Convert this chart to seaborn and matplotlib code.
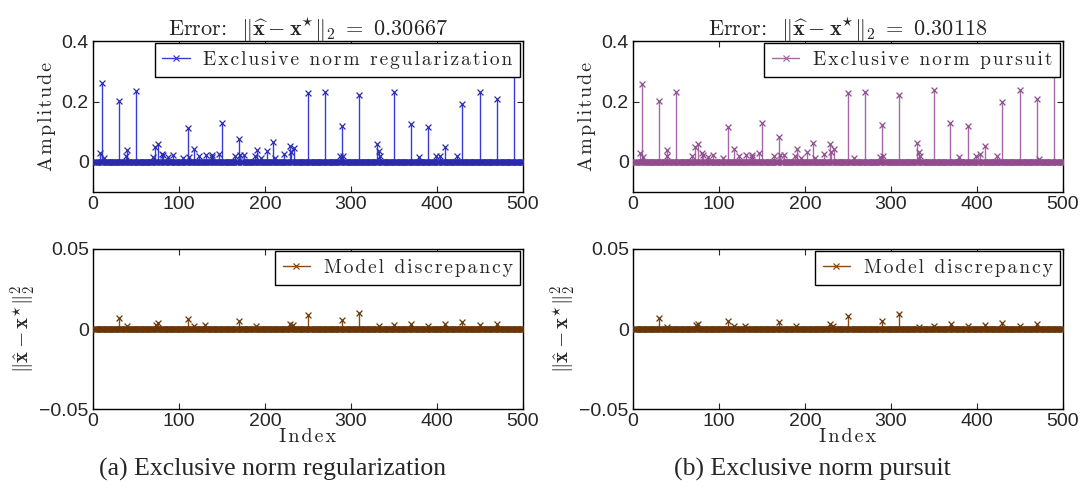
import numpy as np
import pandas as pd
import matplotlib
matplotlib.use('Agg')
import matplotlib.pyplot as plt
import seaborn as sns
from matplotlib.lines import Line2D
from matplotlib.legend_handler import HandlerLine2D

# ---- data (index is 1..500, everything else is 0) ----
n_points = 500

reg_idx = [8, 10, 13, 30, 39, 40, 50, 70, 72, 76, 80, 82, 87, 93, 105, 110, 112,
           118, 123, 132, 138, 139, 147, 150, 165, 170, 171, 176, 188, 191, 196,
           203, 210, 212, 222, 229, 230, 234, 250, 270, 287, 290, 291, 310, 330,
           333, 334, 350, 370, 379, 390, 399, 404, 410, 424, 430, 450, 470, 490]
reg_val = [0.028, 0.261, 0.013, 0.202, 0.019, 0.038, 0.235, 0.017, 0.050, 0.060,
           0.027, 0.022, 0.016, 0.024, 0.013, 0.111, 0.016, 0.043, 0.019, 0.024,
           0.024, 0.016, 0.027, 0.128, 0.018, 0.077, 0.024, 0.024, 0.021, 0.040,
           0.013, 0.036, 0.066, 0.013, 0.027, 0.054, 0.033, 0.046, 0.227, 0.231,
           0.018, 0.120, 0.019, 0.220, 0.060, 0.036, 0.019, 0.233, 0.127, 0.017,
           0.116, 0.019, 0.021, 0.049, 0.021, 0.191, 0.232, 0.207, 0.300]

pur_idx = [8, 10, 12, 30, 39, 40, 50, 69, 72, 76, 80, 81, 87, 93, 105, 110, 118,
           123, 132, 138, 139, 147, 150, 164, 170, 171, 176, 188, 191, 195, 203,
           210, 212, 222, 229, 230, 234, 250, 257, 270, 287, 290, 291, 310, 330,
           333, 334, 350, 369, 379, 390, 399, 404, 410, 424, 430, 450, 470, 472, 490]
pur_val = [0.028, 0.259, 0.016, 0.202, 0.019, 0.038, 0.233, 0.019, 0.049, 0.060,
           0.029, 0.022, 0.016, 0.024, 0.013, 0.116, 0.042, 0.019, 0.024, 0.024,
           0.016, 0.029, 0.128, 0.018, 0.081, 0.024, 0.024, 0.021, 0.041, 0.013,
           0.034, 0.064, 0.013, 0.027, 0.058, 0.033, 0.044, 0.227, 0.013, 0.233,
           0.017, 0.122, 0.021, 0.222, 0.064, 0.033, 0.021, 0.238, 0.129, 0.017,
           0.119, 0.018, 0.026, 0.051, 0.020, 0.197, 0.238, 0.207, 0.011, 0.300]

disc_a_idx = [30, 40, 73, 76, 110, 118, 130, 170, 190, 229, 233, 250, 290, 310,
              333, 350, 370, 390, 410, 430, 450, 470]
disc_a_val = [0.0067, 0.0017, 0.0028, 0.0036, 0.0060, 0.0020, 0.0024, 0.0050,
              0.0020, 0.0030, 0.0024, 0.0086, 0.0054, 0.0099, 0.0017, 0.0026,
              0.0030, 0.0020, 0.0030, 0.0045, 0.0024, 0.0034]

disc_b_idx = [30, 40, 73, 76, 110, 118, 130, 170, 190, 229, 233, 250, 290, 310,
              333, 350, 370, 390, 410, 430, 450, 470]
disc_b_val = [0.0067, 0.0015, 0.0025, 0.0032, 0.0053, 0.0018, 0.0020, 0.0042,
              0.0018, 0.0030, 0.0020, 0.0083, 0.0053, 0.0095, 0.0015, 0.0022,
              0.0030, 0.0018, 0.0025, 0.0038, 0.0020, 0.0030]

titles = [r'Error:  $\Vert\widehat{\mathbf{x}}-\mathbf{x}^{\star}\Vert_2\ =\ 0.30667$',
          r'Error:  $\Vert\widehat{\mathbf{x}}-\mathbf{x}^{\star}\Vert_2\ =\ 0.30118$']
legend_labels = ['Exclusive norm regularization', 'Exclusive norm pursuit',
                 'Model discrepancy', 'Model discrepancy']
captions = ['(a) Exclusive norm regularization', '(b) Exclusive norm pursuit']


def full_series(idx, val):
    y = np.zeros(n_points)
    y[np.array(idx) - 1] = val
    return pd.DataFrame({'index': np.arange(1, n_points + 1), 'value': y})


series = [full_series(reg_idx, reg_val), full_series(pur_idx, pur_val),
          full_series(disc_a_idx, disc_a_val), full_series(disc_b_idx, disc_b_val)]

# ---- style ----
sns.set_style('ticks')
plt.rcParams['font.family'] = ['Liberation Sans', 'DejaVu Sans']
plt.rcParams['mathtext.fontset'] = 'cm'
plt.rcParams['axes.unicode_minus'] = True

cm_font = ['cmr10', 'DejaVu Serif']


def spaced(s):
    # MATLAB latex labels come out letter-spaced
    return '\u200a'.join(s)


class HandlerEndMarker(HandlerLine2D):
    # line with the marker at its right end, like the MATLAB stem legend
    def get_xdata(self, legend, xdescent, ydescent, width, height, fontsize):
        xdata = np.array([-xdescent, -xdescent + width])
        return xdata, np.array([-xdescent + width * 0.92])


stem_colors = ['#3a3ad8', '#a768a7', '#8a4a10', '#8a4a10']
mark_colors = ['#2a2ab0', '#8f4c8f', '#6a3608', '#6a3608']
band_colors = ['#20208a', '#6e3a6e', '#4a2505', '#4a2505']

fig = plt.figure(figsize=(10.85, 4.93), dpi=100)
positions = [[0.0857, 0.6105, 0.396, 0.306], [0.5834, 0.6105, 0.396, 0.306],
             [0.0857, 0.170, 0.396, 0.325], [0.5834, 0.170, 0.396, 0.325]]

for k, (pos, df) in enumerate(zip(positions, series)):
    ax = fig.add_axes(pos)
    nz = df[df['value'] != 0]
    ax.vlines(nz['index'], 0, nz['value'], color=stem_colors[k], lw=1.0, zorder=2)
    ax.axhline(0, color=band_colors[k], lw=2.2, zorder=2)
    sns.scatterplot(data=df, x='index', y='value', marker='x', s=18,
                    color=mark_colors[k], linewidth=0.9, ax=ax, zorder=3,
                    legend=False)
    ax.set_xlim(0, 500)
    ax.set_xticks(range(0, 501, 100))
    if k < 2:
        ax.set_ylim(-0.1, 0.4)
        ax.set_yticks([0, 0.2, 0.4])
        ax.set_yticklabels(['0', '0.2', '0.4'])
        ax.set_title(titles[k], family=cm_font, fontsize=16, pad=4)
        ax.set_ylabel(spaced('Amplitude'), family=cm_font, fontsize=14.5,
                      labelpad=4)
        ax.set_xlabel('')
    else:
        ax.set_ylim(-0.05, 0.05)
        ax.set_yticks([-0.05, 0, 0.05])
        ax.set_yticklabels(['\u22120.05', '0', '0.05'])
        ax.set_xlabel(spaced('Index'), family=cm_font, fontsize=14.5,
                      labelpad=-2)
        ax.set_ylabel(r'$\Vert\hat{\mathbf{x}}-\mathbf{x}^{\star}\Vert_2^2$',
                      fontsize=15, labelpad=1)
    ax.tick_params(direction='in', top=True, right=True, labelsize=14,
                   length=4, width=0.8, pad=3)
    for sp in ax.spines.values():
        sp.set_linewidth(1.0)
        sp.set_color('black')

    proxy = Line2D([], [], color=stem_colors[k], marker='x', markersize=4,
                   markeredgewidth=0.9, lw=1.0)
    leg = ax.legend([proxy], [spaced(legend_labels[k])], loc='upper right',
                    prop={'family': cm_font, 'size': 14}, frameon=True,
                    fancybox=False, edgecolor='black', framealpha=1,
                    borderaxespad=0.12, handlelength=1.4, handletextpad=0.7,
                    borderpad=0.4,
                    handler_map={Line2D: HandlerEndMarker()})
    leg.get_frame().set_linewidth(1.0)

fig.text(0.2516, 0.047, captions[0], ha='center', va='center',
         family=['Liberation Serif', 'DejaVu Serif'], fontsize=18.5)
fig.text(0.749, 0.047, captions[1], ha='center', va='center',
         family=['Liberation Serif', 'DejaVu Serif'], fontsize=18.5)

fig.savefig('out.png', dpi=100)
